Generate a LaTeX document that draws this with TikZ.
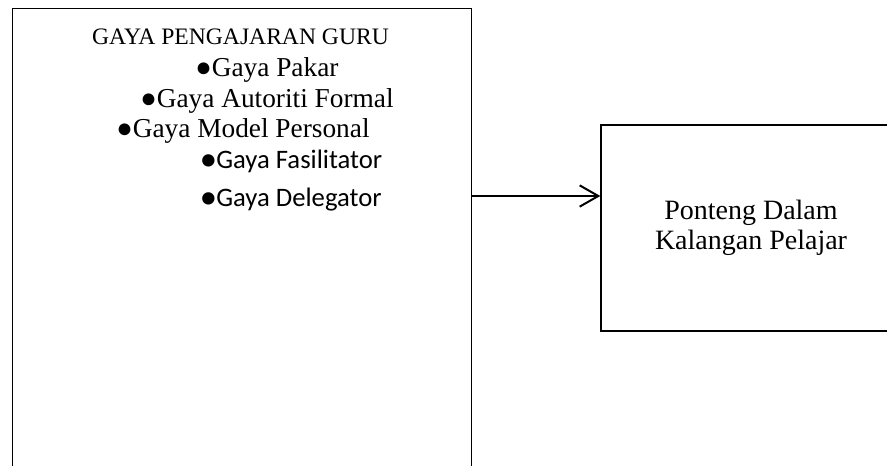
\documentclass[tikz,border=0pt]{standalone}
\usepackage{fontspec}
\setmainfont{Liberation Serif}
\newfontfamily\calfont{Carlito}
\usetikzlibrary{arrows.meta}

\tikzset{%
  frame/.style={
    rectangle,
    draw,
    line width=1pt,
    inner sep=0pt
  },
  item/.style={
    anchor=base west,
    inner sep=0pt,
    font=\fontsize{20.5}{24}\selectfont
  },
  item sans/.style={
    item,
    font=\calfont\fontsize{20}{24}\selectfont
  },
}

\begin{document}
\begin{tikzpicture}[x=0.75pt,y=-0.75pt]
\useasboundingbox (0,0) rectangle (887,465);
\clip (0,0) rectangle (887,465);
\node[frame,minimum width=459*0.75pt,minimum height=560*0.75pt] (guru) at (242,288.5) {};
\node[frame,minimum width=300*0.75pt,minimum height=206*0.75pt,align=center,
  font=\fontsize{21}{22.5}\selectfont] (ponteng) at (751,228) {Ponteng Dalam\\Kalangan Pelajar};
\node[anchor=base,inner sep=0pt,font=\fontsize{17.7}{20}\selectfont] (tajuk) at (240.5,44) {GAYA PENGAJARAN GURU};
\node[item] (pakar) at (195,76) {●Gaya Pakar};
\node[item] (autoriti) at (140,107) {●Gaya Autoriti Formal};
\node[item] (model) at (116,137) {●Gaya Model Personal};
\node[item sans] (fasilitator) at (200,168) {●Gaya Fasilitator};
\node[item sans] (delegator) at (200,206) {●Gaya Delegator};
\coordinate (aras) at (0,196);
\draw[line width=1.5pt,-{Straight Barb[length=14pt,width=16pt]}] (guru.east |- aras) -- (ponteng.west |- aras);
\end{tikzpicture}
\end{document}
